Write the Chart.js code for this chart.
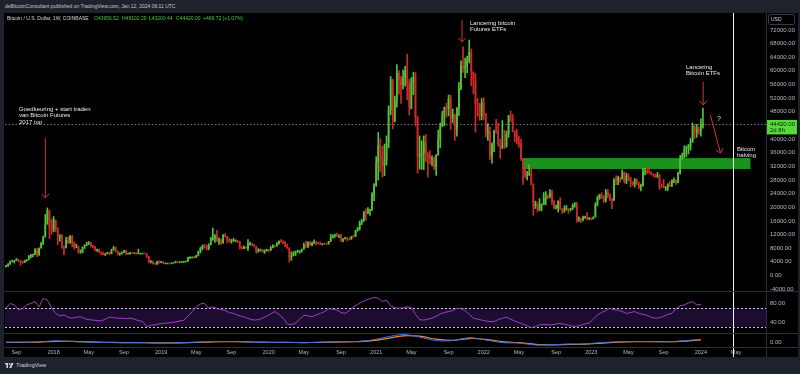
<!DOCTYPE html>
<html><head><meta charset="utf-8">
<script src="https://cdn.jsdelivr.net/npm/chart.js@4.4.0/dist/chart.umd.min.js"></script>
<style>
html,body{margin:0;padding:0;width:800px;height:374px;overflow:hidden;background:#1e222d;font-family:"Liberation Sans",Arial,sans-serif;}
#panel{position:absolute;left:4px;top:13px;width:794px;height:344px;background:#000;}
#c{position:absolute;left:0;top:0;}
.t{position:absolute;white-space:nowrap;}
.ann{position:absolute;white-space:nowrap;color:#ececec;font-size:6px;line-height:6.4px;}
</style></head><body>
<div class="t" style="left:5px;top:3px;font-size:5px;color:#c3c6ce">deBitcoinConsultant published on TradingView.com, Jan 12, 2024 06:11 UTC</div>
<div id="panel"><canvas id="c" width="794" height="344"></canvas></div>
<div class="t" style="left:7px;top:15px;font-size:5px;color:#d1d4dc">Bitcoin / U.S. Dollar, 1W, COINBASE</div>
<div class="t" style="left:94px;top:15px;font-size:5px;color:#45c83f">O43956.52</div>
<div class="t" style="left:122px;top:15px;font-size:5px;color:#45c83f">H49102.29</div>
<div class="t" style="left:149px;top:15px;font-size:5px;color:#45c83f">L43200.44</div>
<div class="t" style="left:176px;top:15px;font-size:5px;color:#45c83f">C44420.00</div>
<div class="t" style="left:203px;top:15px;font-size:5px;color:#45c83f">+469.72 (+1.07%)</div>
<div class="t" style="left:768px;top:14px;width:23px;height:9px;border:1px solid #363a45;border-radius:2px;font-size:5px;line-height:9px;color:#d1d4dc;padding-left:2px;box-sizing:content-box">USD</div>
<div class="ann" style="left:19px;top:106px">Goedkeuring + start traden<br>van Bitcoin Futures<br>2017 top</div>
<div class="ann" style="left:470px;top:20px">Lancering bitcoin<br>Futures ETFs</div>
<div class="ann" style="left:686px;top:64px">Lancering<br>Bitcoin ETFs</div>
<div class="ann" style="left:717px;top:116px;font-size:7px">?</div>
<div class="ann" style="left:737px;top:146px">Bitcoin<br>halving</div>
<div class="t" style="left:5px;top:362px;font-size:5.5px;color:#d1d4dc;display:flex;align-items:center;gap:2px">
<svg width="9" height="5" viewBox="0 0 36 20"><path d="M0 0h12v20H6V6H0z" fill="#d1d4dc"/><circle cx="18" cy="3.5" r="3.5" fill="#d1d4dc"/><path d="M25 0h9l-9 20h-8z" fill="#d1d4dc"/></svg>TradingView</div>
<script>
// ---------------- DATA (weekly BTC/USD, Coinbase) ----------------
const startWeek = '2017-07-24';
const firstOpen = 2730;
const closes = [
// 2017
2870,3250,4070,4090,4350,4600,4200,4000,3780,4380,4610,5700,6000,6150,7400,5950,8040,9400,11400,15000,19000,13900,13400,
// 2018
16200,13600,11600,11800,8200,8100,10400,9600,11500,9500,8200,8500,6900,7000,8300,8900,9350,9650,8700,8500,7350,7700,6750,6450,6150,6350,6750,6350,7400,8200,7000,6300,6400,6700,7300,6250,6500,6700,6600,6600,6300,6400,6400,6450,6380,5600,4000,4050,3500,3250,3900,3850,
// 2019
4000,3550,3550,3550,3400,3600,3650,3850,3800,3900,4000,4000,4150,5050,5150,5350,5200,5750,7000,8000,8750,8700,7900,8950,10800,10800,11500,10200,10300,9500,11800,11400,10200,10150,10300,10300,10300,10000,8050,7900,8300,8000,9200,9200,8800,8500,7050,7400,7500,6900,7300,7400,
// 2020
7350,8100,8700,8600,9300,10100,9900,9650,8550,8050,5350,5850,6400,6800,6850,7150,7700,8900,8700,9650,8900,9450,9700,9400,9300,9000,9300,9250,9200,9950,11050,11600,11900,11650,11700,10250,10700,11050,10750,10650,11400,11350,13050,13750,15500,16050,18400,18200,19150,19300,23800,26500,
// 2021
33000,38200,36000,32300,33500,38900,48600,57400,45200,51200,59200,57400,55800,58000,60000,56200,49100,56600,58200,46400,34700,35600,35800,39000,35500,34700,34200,34200,31800,35400,39900,43800,47100,49300,48800,51800,46000,47300,42800,49000,54900,61500,60900,61300,63300,65500,59700,57200,50400,50100,46700,50700,47300,
// 2022
41800,42200,35000,38500,42400,42200,38400,37700,38000,37800,41300,46800,46400,42200,40400,39400,38500,34300,31300,29400,29400,29900,26600,20500,21000,19300,20800,20800,22600,23300,23200,24300,21500,19600,19800,21800,19400,18900,19300,19400,19200,19600,20600,20900,16300,16700,16400,17100,17100,16800,16800,16600,
// 2023
17100,20900,22700,23700,23000,21800,24600,23500,22400,22100,28000,27800,28500,28300,30300,27600,29200,28700,26900,26800,28100,27100,25900,26300,30500,30600,30300,30200,29800,29300,29000,29400,26100,26000,25800,25800,26500,26300,27900,27900,27200,29900,34500,35000,37000,37400,37700,39500,43900,41900,43000,42300,
// 2024
43950.28,44420.00
];
const highs = [
2900,3490,4200,4480,4380,4980,4700,4400,4130,4470,4650,5850,6190,6250,7880,7880,8100,9700,11500,17900,19800,19200,16500,
17250,16300,14000,11900,12000,8700,11200,11300,11700,11700,9900,9200,8600,7500,8400,9000,9750,9950,9600,8800,8600,7750,7750,6900,6850,6500,6800,6800,7700,8500,8300,7150,6600,6900,7350,7400,6550,6800,6750,6650,6700,7700,6530,6500,6550,6450,5600,4400,4300,3600,4200,4250,
4100,4100,3700,3640,3600,3700,3700,4200,3950,3950,4050,4100,4200,5350,5450,5400,5650,5900,7200,8300,8900,9100,8800,9300,11200,13900,12000,13200,11000,10700,12000,12300,11500,10900,10600,10900,10450,10300,10000,8500,8700,8400,10500,9800,9500,9100,8600,7900,7700,7600,7500,7700,
7650,8500,9000,8800,9600,10150,10500,10250,9950,9200,8150,6900,7000,7200,7450,7300,7750,9450,10000,9950,9950,9800,10400,9950,9800,9800,9350,9450,9350,10000,12100,11900,12100,12450,11800,12100,10800,11200,11050,11000,11450,11750,13250,14100,15950,16500,18800,19500,19900,19400,24300,26900,
34800,41900,40100,37850,38500,40900,49700,58300,57500,52600,61800,60100,58400,60200,61300,64900,57500,58000,59600,59500,46600,40900,39500,40900,41300,36000,36600,35100,34700,34500,42600,44700,48100,49400,50500,52900,52900,48800,47300,49200,56600,62900,67000,63700,64300,69000,66400,59300,59200,51900,50500,51900,52100,
47500,44500,43500,38900,42600,45800,44700,40000,45400,42600,42300,47000,48200,47200,42400,42900,40800,40000,34400,31300,30500,32400,31800,26900,21800,21500,22500,21000,24300,24600,23600,25200,25000,22000,20600,21900,22800,19700,20400,20500,19600,19700,21000,21400,21400,17200,16800,17400,17400,18400,17000,16900,
17200,21300,23300,23800,24200,23400,25200,25200,23900,22600,28400,29200,29100,28800,31000,30300,30000,29800,28800,27500,28400,28400,27400,26800,31400,31400,31400,31800,30400,29800,29700,30200,29700,26800,28100,26100,26900,27500,28000,28600,28000,30300,35200,35900,38000,38000,38400,40200,44700,43400,44300,43600,
45900,49102.29
];
const lows = [
2450,2650,3220,3950,3600,4300,4000,2970,3520,3760,4150,4550,5100,5400,6100,5500,5900,7950,9000,11200,15000,10800,12000,
12750,12800,9000,10000,7900,6000,8000,9300,9400,8400,7700,8100,6500,6500,6600,7900,8700,9000,8300,8000,7200,7050,6650,6100,6000,5800,6300,6100,6300,7400,6900,5950,5900,6250,6700,6150,6200,6150,6450,6500,6200,6300,6380,6250,6350,5200,3650,3600,3300,3200,3230,3550,
3650,3500,3500,3450,3350,3370,3550,3650,3700,3700,3800,3950,3950,4100,4900,5100,5050,5200,5700,6600,7500,8000,7450,7500,8950,10300,9700,9900,9100,9100,9400,11200,9500,9700,9400,10000,9900,9600,7750,7700,7850,7900,7300,8900,8700,8350,6500,6800,7100,6850,6450,7100,
6900,7300,8050,8250,8550,9150,9700,9300,8400,7900,3850,4450,5700,5850,6750,6500,6800,7650,8200,8150,8700,8650,9250,8950,9200,8950,8950,9100,9050,9150,9900,10950,11150,11450,11100,9900,9850,10650,10150,10400,10550,11200,11350,12950,13300,14850,15800,16200,18100,17600,19000,21900,
26100,28000,30400,28800,29200,32300,37400,47100,43000,45000,49300,53200,50400,54700,55500,51500,47000,48800,53000,43800,30000,31200,31100,31000,33300,28800,32700,32100,31000,29300,35200,37500,43600,43900,46400,46800,42800,44700,39600,40800,46900,54400,59500,58000,59400,62300,55600,53300,42000,46700,45500,45600,45700,
40600,39600,34000,32900,36300,41700,37900,34300,37200,37200,37600,40500,45100,42100,39200,38500,37600,33700,26700,28600,28000,29300,26500,17600,19600,18600,19000,18900,20700,20700,22400,22700,20800,19500,19500,18600,19300,18100,18500,19100,18200,18900,19300,20000,15600,15800,15500,16000,16700,16300,16300,16300,
16500,17100,20400,22300,22500,21400,21500,22800,21900,19600,21900,26600,26600,27300,28200,27100,26900,27700,25900,26400,25900,26600,25400,24800,26200,29500,29800,29900,29500,29000,28700,28700,25200,25800,25700,24900,24900,26100,26000,27200,26600,27100,29700,34100,34500,34800,35600,36700,39000,40200,40500,41400,
40800,43200.44
];
// RSI(14), one reading every 2 weeks
const rsiBiweekly = [
69,79,76,66,68,76,79,83,72,90,86,70,
58,53,55,50,48,50,51,47,45,44,43,42,
46,50,49,48,48,47,48,46,43,41,30,33,
34,36,37,38,39,40,42,44,52,62,72,78,
79,69,72,68,66,64,60,58,54,52,49,46,
44,45,48,52,57,62,56,48,36,34,38,46,
54,53,51,55,58,62,68,67,65,60,58,64,
72,77,82,86,89,92,90,83,86,74,70,69,
70,72,70,56,45,44,46,48,52,57,60,62,
64,69,68,64,56,48,46,44,42,41,41,45,
48,50,46,42,39,35,32,28,30,34,35,34,
34,36,37,35,33,31,31,33,36,38,46,55,
60,64,69,66,65,62,58,60,62,58,56,54,
50,48,49,52,56,58,68,74,76,80,83,76,
77
];
// lower oscillator, one reading every 8 weeks
const macdLine = [0,200,900,2500,1500,300,-300,-600,-400,-1200,-1000,-300,800,1500,1200,200,-300,-200,-500,200,900,1200,3500,9000,13500,9000,3000,3000,8000,4000,-500,-1200,-4500,-4000,-3000,-2800,-500,900,1500,1300,800,2800,5000];
const signalLine = [0,100,500,1700,1800,800,100,-400,-500,-900,-1000,-600,300,1100,1300,600,0,-200,-400,-100,500,1000,2500,6500,11000,10500,5500,3500,6500,5200,1200,-600,-3500,-4200,-3500,-3000,-1300,300,1200,1300,1000,2000,4200];

const priceTicks = [72000,68000,64000,60000,56000,52000,48000,40000,36000,32000,28000,24000,20000,16000,12000,8000,4000,0,-4000];
const rsiTicks = [80,40];
const oscTicks = [0];
const xTickLabels = ['Sep','2018','May','Sep','2019','May','Sep','2020','May','Sep','2021','May','Sep','2022','May','Sep','2023','May','Sep','2024','May'];
const xTickDates = ['2017-09-01','2018-01-01','2018-05-01','2018-09-01','2019-01-01','2019-05-01','2019-09-01','2020-01-01','2020-05-01','2020-09-01','2021-01-01','2021-05-01','2021-09-01','2022-01-01','2022-05-01','2022-09-01','2023-01-01','2023-05-01','2023-09-01','2024-01-01','2024-05-01'];

// annotations (week index, price)
const arrowFrom = [[19,40300],[220.5,74900],[337.1,56800],[340.6,47000]];
const arrowTo   = [[19,22700],[220.5,68500],[337.1,50000],[345.5,35900]];
const zoneWeeks = [250, 360];
const zonePrices = [31200, 34400];
const lastPrice = 44420;
const halvingDate = '2024-04-20';

// ---------------- BUILD ----------------
if (highs.length !== closes.length || lows.length !== closes.length) {
  throw new Error('length mismatch c=' + closes.length + ' h=' + highs.length + ' l=' + lows.length);
}
const WEEK = 7 * 864e5;
const T0 = Date.parse(startWeek + 'T00:00:00Z');
const SLOTS = 368;
const labels = [];
for (let i = 0; i < SLOTS; i++) labels.push(new Date(T0 + i * WEEK).toISOString().slice(0, 10));
const weekOf = d => (Date.parse(d + 'T00:00:00Z') - T0) / WEEK;
const xTickIdx = xTickDates.map(d => Math.floor(weekOf(d)));
const xLabelAt = {};
xTickIdx.forEach((v, k) => { xLabelAt[v] = xTickLabels[k]; });

const opens = closes.map((c, i) => i === 0 ? firstOpen : closes[i - 1]);
const UP = '#55c23a', DOWN = '#cf2a2a';
const bodies = [], wicks = [], colors = [];
for (let i = 0; i < SLOTS; i++) {
  if (i < closes.length) {
    const o = opens[i], c = closes[i];
    const h = Math.max(highs[i], o, c), l = Math.min(lows[i], o, c);
    bodies.push([o, c]); wicks.push([l, h]);
    colors.push(c >= o ? UP : DOWN);
  } else { bodies.push(null); wicks.push(null); colors.push(UP); }
}
const rsiData = new Array(SLOTS).fill(null);
rsiBiweekly.forEach((v, k) => { rsiData[k * 2] = v; });
const macdData = new Array(SLOTS).fill(null);
const sigData = new Array(SLOTS).fill(null);
macdLine.forEach((v, k) => { macdData[k * 8] = v; });
signalLine.forEach((v, k) => { sigData[k * 8] = v; });

const FONT = '"Liberation Sans", Arial, sans-serif';
const AXW = 32;

function xAt(x, v) {
  const i = Math.floor(v), f = v - i;
  const p0 = x.getPixelForValue(i), p1 = x.getPixelForValue(i + 1);
  return p0 + (p1 - p0) * f;
}
function arrow(ctx, x1, y1, x2, y2) {
  const a = Math.atan2(y2 - y1, x2 - x1), h = 5.5, s = 0.75;
  ctx.beginPath();
  ctx.moveTo(x1, y1); ctx.lineTo(x2, y2);
  ctx.moveTo(x2 - h * Math.cos(a - s), y2 - h * Math.sin(a - s));
  ctx.lineTo(x2, y2);
  ctx.lineTo(x2 - h * Math.cos(a + s), y2 - h * Math.sin(a + s));
  ctx.stroke();
}

const overlay = {
  id: 'overlay',
  beforeDatasetsDraw(chart) {
    const { ctx, chartArea: ca, scales: { x, y, yRsi } } = chart;
    ctx.save();
    // RSI band
    const r70 = yRsi.getPixelForValue(70), r30 = yRsi.getPixelForValue(30);
    ctx.fillStyle = '#1c0c30';
    ctx.fillRect(ca.left, r70, ca.right - ca.left, r30 - r70);
    ctx.strokeStyle = '#c9c9d0'; ctx.lineWidth = 1; ctx.setLineDash([2, 2]);
    [r70, r30].forEach(p => { ctx.beginPath(); ctx.moveTo(ca.left, Math.round(p) + 0.5); ctx.lineTo(ca.right, Math.round(p) + 0.5); ctx.stroke(); });
    // zone
    const zx0 = xAt(x, zoneWeeks[0]), zx1 = xAt(x, zoneWeeks[1]);
    const zy0 = y.getPixelForValue(zonePrices[1]), zy1 = y.getPixelForValue(zonePrices[0]);
    ctx.setLineDash([]);
    ctx.fillStyle = '#1c921e';
    ctx.fillRect(zx0, zy0, zx1 - zx0, zy1 - zy0);
    // last price line
    const py = Math.round(y.getPixelForValue(lastPrice)) + 0.5;
    ctx.strokeStyle = 'rgba(170,170,175,0.7)'; ctx.setLineDash([1.5, 2]);
    ctx.beginPath(); ctx.moveTo(ca.left, py); ctx.lineTo(ca.right, py); ctx.stroke();
    ctx.restore();
  },
  afterDatasetsDraw(chart) {
    const { ctx, chartArea: ca, scales: { x, y, yRsi, yMacd } } = chart;
    ctx.save();
    // arrows
    ctx.strokeStyle = '#d43333'; ctx.lineWidth = 1;
    arrowFrom.forEach((f, k) => {
      const t = arrowTo[k];
      arrow(ctx, xAt(x, f[0]), y.getPixelForValue(f[1]), xAt(x, t[0]), y.getPixelForValue(t[1]));
    });
    // halving line
    const hx = Math.round(xAt(x, weekOf(halvingDate))) + 0.5;
    ctx.strokeStyle = '#f2f2f2';
    ctx.beginPath(); ctx.moveTo(hx, 0); ctx.lineTo(hx, chart.height); ctx.stroke();
    // separators
    ctx.strokeStyle = '#2a2e39';
    [yRsi.top, yMacd.top, x.top].forEach(p => {
      const q = Math.round(p) + 0.5;
      ctx.beginPath(); ctx.moveTo(0, q); ctx.lineTo(chart.width, q); ctx.stroke();
    });
    const vx = Math.round(ca.right) + 0.5;
    ctx.beginPath(); ctx.moveTo(vx, 0); ctx.lineTo(vx, chart.height); ctx.stroke();
    // last price label
    const py = y.getPixelForValue(lastPrice);
    ctx.fillStyle = '#58d93b';
    ctx.fillRect(ca.right + 1, py - 4, AXW - 2, 14.5);
    ctx.fillStyle = '#0d1f0a';
    ctx.font = '6px ' + FONT; ctx.textBaseline = 'middle'; ctx.textAlign = 'left';
    ctx.fillText(lastPrice.toFixed(2), ca.right + 4, py + 0.5);
    ctx.fillText('2d 8h', ca.right + 4, py + 6);
    ctx.restore();
  }
};

const tickFont = { size: 6, family: FONT };
function yAxis(stackWeight, min, max, list) {
  return {
    type: 'linear', position: 'right', stack: 'panes', stackWeight, min, max,
    grid: { display: false, drawTicks: false }, border: { display: false },
    ticks: { color: '#b4b7bf', font: tickFont, padding: 4, autoSkip: false, callback: v => Number(v).toFixed(2) },
    afterBuildTicks: a => { a.ticks = list.map(v => ({ value: v })); },
    afterFit: a => { a.width = AXW; a.paddingTop = 0; a.paddingBottom = 0; }
  };
}

new Chart(document.getElementById('c'), {
  type: 'bar',
  data: {
    labels,
    datasets: [
      { label: 'Body', data: bodies, backgroundColor: colors, borderWidth: 0, grouped: false,
        barPercentage: 0.8, categoryPercentage: 1, minBarLength: 1, yAxisID: 'y', xAxisID: 'x' },
      { label: 'Wick', data: wicks, backgroundColor: colors, borderWidth: 0, grouped: false,
        barThickness: 1, yAxisID: 'y', xAxisID: 'x' },
      { type: 'line', label: 'RSI', data: rsiData, borderColor: '#a03fc4', borderWidth: 1,
        pointRadius: 0, spanGaps: true, tension: 0, yAxisID: 'yRsi', xAxisID: 'x' },
      { type: 'line', label: 'MACD', data: macdData, borderColor: '#3d6fd8', borderWidth: 1,
        pointRadius: 0, spanGaps: true, tension: 0.3, yAxisID: 'yMacd', xAxisID: 'x' },
      { type: 'line', label: 'Signal', data: sigData, borderColor: '#f08a3c', borderWidth: 1.2,
        pointRadius: 0, spanGaps: true, tension: 0.3, yAxisID: 'yMacd', xAxisID: 'x' }
    ]
  },
  options: {
    responsive: false, animation: false, devicePixelRatio: 1,
    layout: { padding: { left: 1, right: 0, top: 0, bottom: 0 } },
    plugins: { legend: { display: false }, tooltip: { enabled: false } },
    scales: {
      x: {
        type: 'category', offset: true,
        grid: { display: false, drawTicks: false }, border: { display: false },
        ticks: { color: '#b4b7bf', font: { size: 5.5, family: FONT }, padding: 2, maxRotation: 0, minRotation: 0, autoSkip: false,
                 callback: v => xLabelAt[v] || '' },
        afterBuildTicks: a => { a.ticks = xTickIdx.map(i => ({ value: i })); },
        afterFit: a => { a.height = 10; a.paddingLeft = 0; a.paddingRight = 0; }
      },
      y: yAxis(278, -4570, 76950, priceTicks),
      yRsi: yAxis(42, 16.8, 105.3, rsiTicks),
      yMacd: yAxis(14, -8000, 16000, oscTicks)
    }
  },
  plugins: [overlay]
});
</script>
</body></html>
